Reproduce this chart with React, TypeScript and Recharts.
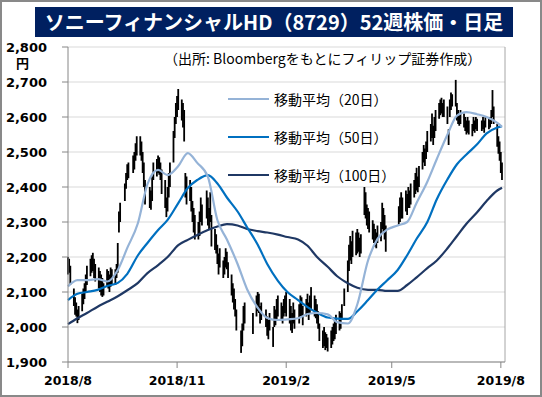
import { Bar, CartesianGrid, ComposedChart, Line, ReferenceLine, XAxis, YAxis } from 'recharts';

const START = Date.UTC(2018, 7, 1);
const END = Date.UTC(2019, 7, 2);
const DAY = 86400000;
const dayOf = (iso: string) => (Date.parse(iso) - START) / DAY;

const xTickDates = ['2018-08-01', '2018-11-01', '2019-02-01', '2019-05-01', '2019-08-01'];
const xTickLabels = ['2018/8', '2018/11', '2019/2', '2019/5', '2019/8'];
const yTicks = [1900, 2000, 2100, 2200, 2300, 2400, 2500, 2600, 2700, 2800];

// TSE holidays on weekdays inside the window
const holidays = [
    '2018-09-17', '2018-09-24', '2018-10-08', '2018-11-23', '2018-12-24', '2018-12-31',
    '2019-01-01', '2019-01-02', '2019-01-03', '2019-01-14', '2019-02-11', '2019-03-21',
    '2019-04-29', '2019-04-30', '2019-05-01', '2019-05-02', '2019-05-03', '2019-05-06', '2019-07-15',
];

// daily high / low, one per trading day
const highs = [
    2200, 2195, 2175, 2110, 2085, 2070, 2050, 2060, 2095, 2110, 2125, 2150, 2175, 2195, 2205, 2212, 2195, 2180, 2170, 2160, 2150, 2140, 2125, // 2018/8
    2165, 2160, 2150, 2170, 2165, 2165, 2180, 2240, 2330, 2355, 2410, 2440, 2465, 2470, 2490, 2500, 2525, 2545, // 9
    2545, 2530, 2500, 2470, 2420, 2400, 2390, 2430, 2470, 2480, 2490, 2485, 2470, 2450, 2420, 2370, 2400, 2440, 2470, 2560, 2600, 2640, // 10
    2660, 2680, 2650, 2640, 2620, 2440, 2430, 2420, 2400, 2360, 2340, 2320, 2300, 2330, 2370, 2350, 2390, 2370, 2340, 2385, 2320, // 11
    2280, 2265, 2235, 2210, 2225, 2190, 2200, 2225, 2215, 2185, 2150, 2125, 2110, 2080, 2050, 1990, 2010, 2060, 2070, // 12
    2040, 2090, 2100, 2095, 2060, 2070, 2050, 2030, 2020, 2040, 2000, 2060, 2050, 2080, 2090, 2070, 2060, 2080, 2090, // 2019/1
    2100, 2080, 2060, 2040, 2070, 2050, 2065, 2090, 2085, 2060, 2080, 2095, 2070, 2090, 2114, 2090, 2080, 2065, 2045, // 2
    2010, 1990, 2000, 1985, 1980, 1970, 1990, 2000, 2010, 2020, 2035, 2045, 2040, 2065, 2110, 2190, 2235, 2260, 2245, 2275, // 3
    2270, 2280, 2270, 2255, 2265, 2400, 2385, 2350, 2340, 2330, 2305, 2295, 2280, 2270, 2290, 2300, 2355, 2340, 2320, 2290, // 4
    2345, 2370, 2385, 2370, 2390, 2380, 2400, 2390, 2410, 2420, 2440, 2455, 2430, 2460, 2500, 2520, 2510, 2530, 2560, // 5
    2580, 2610, 2575, 2600, 2620, 2640, 2650, 2655, 2640, 2650, 2630, 2565, 2650, 2670, 2665, 2706, 2640, 2620, 2610, 2620, // 6
    2610, 2600, 2590, 2600, 2590, 2580, 2600, 2590, 2600, 2595, 2590, 2600, 2590, 2600, 2595, 2600, 2620, 2677, 2630, 2580, 2545, 2530, // 7
    2500, 2470, // 8
];
const lows = [
    2150, 2155, 2120, 2060, 2035, 2030, 2011, 2020, 2045, 2065, 2080, 2100, 2120, 2145, 2155, 2160, 2140, 2130, 2110, 2100, 2090, 2086, 2090,
    2115, 2110, 2100, 2115, 2120, 2120, 2140, 2155, 2270, 2300, 2360, 2395, 2420, 2425, 2440, 2450, 2475, 2490,
    2490, 2475, 2440, 2400, 2350, 2340, 2335, 2360, 2420, 2430, 2440, 2435, 2420, 2380, 2340, 2314, 2330, 2370, 2400, 2470, 2540, 2580,
    2600, 2620, 2590, 2570, 2530, 2370, 2350, 2360, 2330, 2300, 2270, 2250, 2250, 2260, 2300, 2290, 2310, 2290, 2280, 2300, 2230,
    2220, 2210, 2180, 2150, 2170, 2140, 2150, 2170, 2165, 2140, 2090, 2070, 2050, 2030, 1990, 1926, 1945, 1990, 2010,
    1980, 2030, 2045, 2040, 2010, 2020, 2000, 1975, 1965, 1990, 1943, 2000, 2005, 2020, 2030, 2020, 2010, 2030, 2040,
    2030, 2010, 1990, 1983, 2010, 1995, 2010, 2030, 2030, 2005, 2030, 2040, 2020, 2040, 2050, 2030, 2025, 2010, 1995,
    1960, 1940, 1945, 1934, 1940, 1930, 1940, 1950, 1960, 1965, 1980, 1990, 1995, 2020, 2060, 2100, 2160, 2190, 2180, 2200,
    2205, 2210, 2215, 2200, 2210, 2320, 2310, 2290, 2280, 2270, 2250, 2240, 2230, 2225, 2240, 2245, 2280, 2270, 2250, 2215,
    2290, 2300, 2310, 2310, 2330, 2320, 2340, 2340, 2350, 2370, 2380, 2390, 2385, 2400, 2450, 2470, 2460, 2480, 2500,
    2530, 2540, 2520, 2540, 2560, 2595, 2605, 2610, 2600, 2600, 2580, 2520, 2600, 2620, 2630, 2630, 2590, 2580, 2575, 2580,
    2570, 2560, 2550, 2555, 2550, 2545, 2560, 2555, 2565, 2560, 2560, 2565, 2555, 2570, 2565, 2570, 2580, 2600, 2580, 2515, 2495, 2475,
    2440, 2420,
];

// moving averages at roughly weekly steps
const maDates = [
    '2018-08-01', '2018-08-09', '2018-08-17', '2018-08-26', '2018-09-03', '2018-09-12', '2018-09-20', '2018-09-29',
    '2018-10-07', '2018-10-16', '2018-10-24', '2018-11-02', '2018-11-10', '2018-11-18', '2018-11-27', '2018-12-05',
    '2018-12-13', '2018-12-22', '2018-12-30', '2019-01-08', '2019-01-16', '2019-01-25', '2019-02-02', '2019-02-11',
    '2019-02-19', '2019-02-27', '2019-03-08', '2019-03-16', '2019-03-25', '2019-04-02', '2019-04-11', '2019-04-19',
    '2019-04-27', '2019-05-06', '2019-05-14', '2019-05-22', '2019-05-31', '2019-06-08', '2019-06-17', '2019-06-25',
    '2019-07-03', '2019-07-12', '2019-07-20', '2019-07-29', '2019-08-02',
];
const ma20 = [
    2116, 2134, 2134, 2137, 2130, 2163, 2226, 2297, 2408, 2449, 2434, 2460, 2497, 2469, 2429, 2305,
    2250, 2180, 2108, 2055, 2026, 2020, 2022, 2025, 2037, 2040, 2036, 2014, 2010, 2065, 2190, 2252,
    2278, 2290, 2300, 2355, 2415, 2480, 2550, 2604, 2614, 2608, 2600, 2583, 2572,
];
const ma50 = [
    2077, 2095, 2100, 2106, 2117, 2126, 2152, 2205, 2240, 2277, 2306, 2354, 2397, 2420, 2434, 2410,
    2370, 2330, 2285, 2235, 2180, 2132, 2100, 2077, 2057, 2041, 2027, 2024, 2023, 2045, 2077, 2107,
    2133, 2163, 2205, 2252, 2300, 2365, 2422, 2465, 2493, 2522, 2553, 2570, 2574,
];
const ma100 = [
    2008, 2025, 2040, 2058, 2072, 2088, 2105, 2126, 2154, 2177, 2200, 2234, 2249, 2263, 2277, 2287,
    2294, 2290, 2280, 2274, 2270, 2264, 2257, 2250, 2232, 2200, 2172, 2145, 2125, 2112, 2106, 2106,
    2103, 2103, 2120, 2142, 2168, 2190, 2225, 2260, 2295, 2328, 2360, 2390, 2398,
];

const tradingDays: number[] = [];
for (let t = START; t <= END; t += DAY) {
    const d = new Date(t);
    const wd = d.getUTCDay();
    if (wd === 0 || wd === 6 || holidays.includes(d.toISOString().slice(0, 10))) continue;
    tradingDays.push((t - START) / DAY);
}

const priceData = tradingDays.map((t, i) => ({ t, range: [lows[i], highs[i]] }));
const maData = maDates.map((d, i) => ({ t: dayOf(d), ma20: ma20[i], ma50: ma50[i], ma100: ma100[i] }));
const xTicks = xTickDates.map(dayOf);

const SERIES = [
    { key: 'ma20', name: '移動平均（20日）', color: '#95B3D7' },
    { key: 'ma50', name: '移動平均（50日）', color: '#0070C0' },
    { key: 'ma100', name: '移動平均（100日）', color: '#1F3864' },
];

const JP = '"Noto Sans CJK JP", "Noto Sans", sans-serif';
const NUM = '"DejaVu Sans", sans-serif';

const HiLo = (p: any) => {
    const { x, y, width, height } = p;
    if (![x, y, width, height].every(Number.isFinite)) return null;
    const top = height < 0 ? y + height : y;
    return <rect x={x + width / 2 - 0.9} y={top} width={1.8} height={Math.max(Math.abs(height), 1)} fill="#000" />;
};

export default function App() {
    return (
        <div style={{ position: 'fixed', left: 0, top: 0, width: 542, height: 397, background: '#fff', overflow: 'hidden' }}>
            <ComposedChart width={542} height={397} data={priceData} margin={{ top: 47, right: 37, bottom: 0, left: 0 }}>
                <CartesianGrid vertical={false} stroke="#D9D9D9" />
                <XAxis
                    type="number"
                    dataKey="t"
                    domain={[0, 368.5]}
                    ticks={xTicks}
                    interval={0}
                    height={35}
                    tickSize={6}
                    tickMargin={8}
                    stroke="#868686"
                    tick={{ fill: '#000', fontSize: 12.5, fontWeight: 700, fontFamily: NUM }}
                    tickFormatter={(v: number) => xTickLabels[xTicks.indexOf(v)] ?? ''}
                />
                <YAxis
                    type="number"
                    domain={[1900, 2800]}
                    ticks={yTicks}
                    interval={0}
                    width={68}
                    tickSize={6}
                    tickMargin={15}
                    stroke="#868686"
                    tick={{ fill: '#000', fontSize: 13, fontWeight: 700, fontFamily: NUM }}
                    tickFormatter={(v: number) => v.toLocaleString('en-US')}
                />
                <ReferenceLine x={368.5} stroke="#A6A6A6" />
                <Bar dataKey="range" barSize={2} shape={HiLo} isAnimationActive={false} />
                {SERIES.slice().reverse().map((s) => (
                    <Line
                        key={s.key}
                        data={maData}
                        dataKey={s.key}
                        type="monotone"
                        stroke={s.color}
                        strokeWidth={2.2}
                        dot={false}
                        isAnimationActive={false}
                    />
                ))}
            </ComposedChart>

            <div
                style={{
                    position: 'absolute', left: 35, top: 7, width: 478, height: 30, background: '#002060',
                    color: '#fff', fontFamily: JP, fontWeight: 700, fontSize: 20, lineHeight: '30px',
                    textAlign: 'center', whiteSpace: 'nowrap',
                }}
            >
                ソニーフィナンシャルHD（8729）52週株価・日足
            </div>
            <div style={{ position: 'absolute', left: 16, top: 55, fontFamily: JP, fontWeight: 700, fontSize: 13, lineHeight: '16px' }}>円</div>
            <div style={{ position: 'absolute', left: 164, top: 49, fontFamily: JP, fontSize: 14, lineHeight: '18px', whiteSpace: 'nowrap' }}>
                （出所: Bloombergをもとにフィリップ証券作成）
            </div>
            {SERIES.map((s, i) => (
                <div
                    key={s.key}
                    style={{ position: 'absolute', left: 228, top: 89 + i * 38, height: 20, display: 'flex', alignItems: 'center', whiteSpace: 'nowrap' }}
                >
                    <span style={{ display: 'inline-block', width: 41, height: 2.5, background: s.color, marginRight: 5 }} />
                    <span style={{ fontFamily: JP, fontSize: 14 }}>{s.name}</span>
                </div>
            ))}
            <div style={{ position: 'absolute', inset: 0, border: '2px solid #898989', boxSizing: 'border-box', pointerEvents: 'none' }} />
        </div>
    );
}
